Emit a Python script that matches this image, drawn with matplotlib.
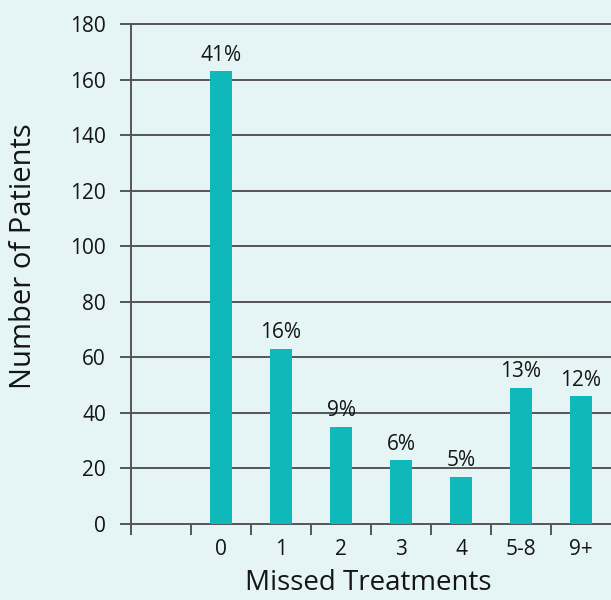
import numpy as np
import matplotlib.pyplot as plt

categories = ['', '0', '1', '2', '3', '4', '5-8', '9+']
patients = [0, 163, 63, 35, 23, 17, 49, 46]
percents = ['', '41%', '16%', '9%', '6%', '5%', '13%', '12%']

bg = '#e5f4f5'
bar_color = '#10b9b9'
line_color = '#555555'
text_color = '#151515'

plt.rcParams['font.family'] = ['Open Sans', 'DejaVu Sans']

fig = plt.figure(figsize=(6.11, 6.0), dpi=100, facecolor=bg)
ax = fig.add_axes([131 / 611, 76 / 600, 480 / 611, 500 / 600], facecolor=bg)

x = np.arange(len(categories))
bars = ax.bar(x[1:], patients[1:], width=0.37, color=bar_color, zorder=3)

for xi, h, lab in zip(x[1:], patients[1:], percents[1:]):
    ax.text(xi, h + 2, lab, ha='center', va='bottom', fontsize=15,
            color=text_color, zorder=4)

ax.set_xlim(-0.5, len(categories) - 0.5)
ax.set_ylim(0, 180)

yt = np.arange(0, 181, 20)
ax.set_yticks(yt)
ax.set_yticklabels([str(v) for v in yt], fontsize=15, color=text_color)
for v in yt:
    ax.plot([-0.5 - 10 / 60, len(categories) - 0.5], [v, v], color=line_color,
            lw=1.4, clip_on=False, zorder=2)
ax.tick_params(axis='y', length=0, pad=18)

ax.set_xticks(np.arange(len(categories)) - 0.5)
ax.set_xticklabels([])
ax.tick_params(axis='x', which='major', direction='out', length=8,
               width=1.4, color=line_color)
ax.set_xticks(x[1:], minor=True)
ax.set_xticklabels(categories[1:], minor=True, fontsize=15, color=text_color)
ax.tick_params(axis='x', which='minor', length=0, pad=11)

for s in ['top', 'right', 'bottom']:
    ax.spines[s].set_visible(False)
ax.spines['left'].set_color(line_color)
ax.spines['left'].set_linewidth(1.4)
ax.spines['left'].set_zorder(2)

fig.text(24 / 611, 1 - 256 / 600, 'Number of Patients', rotation=90,
         ha='center', va='center', fontsize=21, color=text_color)
fig.text(368 / 611, 1 - 583 / 600, 'Missed Treatments', ha='center',
         va='center', fontsize=20, color=text_color)

fig.savefig('out.png', dpi=100, facecolor=bg)
